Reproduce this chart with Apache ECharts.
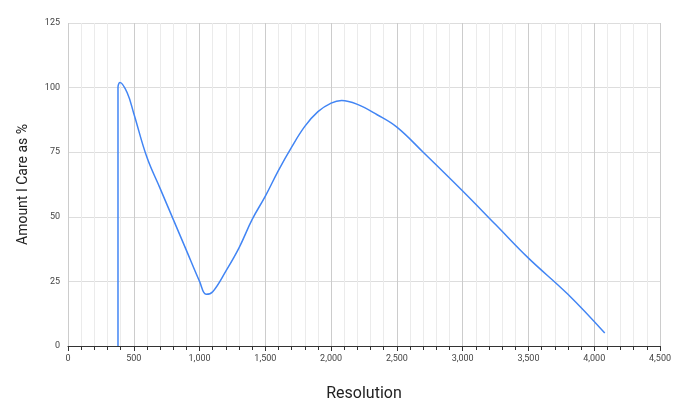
<!DOCTYPE html><html><head><meta charset="utf-8"><script src="https://cdn.jsdelivr.net/npm/echarts@6/dist/echarts.min.js"></script></head><body style="margin:0"><div id="c" style="width:680px;height:418px"></div><script>
const xs=[380,380,395,450,500,600,700,800,900,1000,1050,1100,1200,1300,1400,1500,1600,1700,1800,1900,2000,2080,2200,2350,2500,2700,3000,3250,3500,3800,4080];
const ys=[0,100,102,98,90,73,61,49,37,25,20,21,29,38,49,58,68,77,85,90.7,94,95,93.5,89.5,84.7,75,60,47,34,20,5];
const xTitle="Resolution", yTitle="Amount I Care as %";
const c=echarts.init(document.getElementById('c'));
const ax={fontSize:9,color:'#444',fontFamily:'Roboto'};
c.setOption({animation:false,
grid:{left:68,right:20,top:23,bottom:72},
xAxis:{type:'value',min:0,max:4500,interval:500,name:xTitle,nameLocation:'middle',nameGap:40,nameTextStyle:{fontSize:16,color:'#222',fontFamily:'Roboto'},
 axisLabel:ax,axisLine:{lineStyle:{color:'#333'}},axisTick:{show:true,lineStyle:{color:'#333'}},
 minorTick:{show:true,splitNumber:5,length:4,lineStyle:{color:'#333'}},
 splitLine:{lineStyle:{color:'#ccc'}},minorSplitLine:{show:true,lineStyle:{color:'#ebebeb'}}},
yAxis:{type:'value',min:0,max:125,interval:25,name:yTitle,nameLocation:'middle',nameGap:38,nameTextStyle:{fontSize:14,color:'#222',fontFamily:'Roboto'},
 axisLabel:ax,axisLine:{show:false},axisTick:{show:false},splitLine:{lineStyle:{color:'#ddd'}}},
series:[{type:'line',data:xs.map((x,i)=>[x,ys[i]]),showSymbol:false,smooth:0.4,lineStyle:{color:'#4285f4',width:1.5}}]});
</script></body></html>
